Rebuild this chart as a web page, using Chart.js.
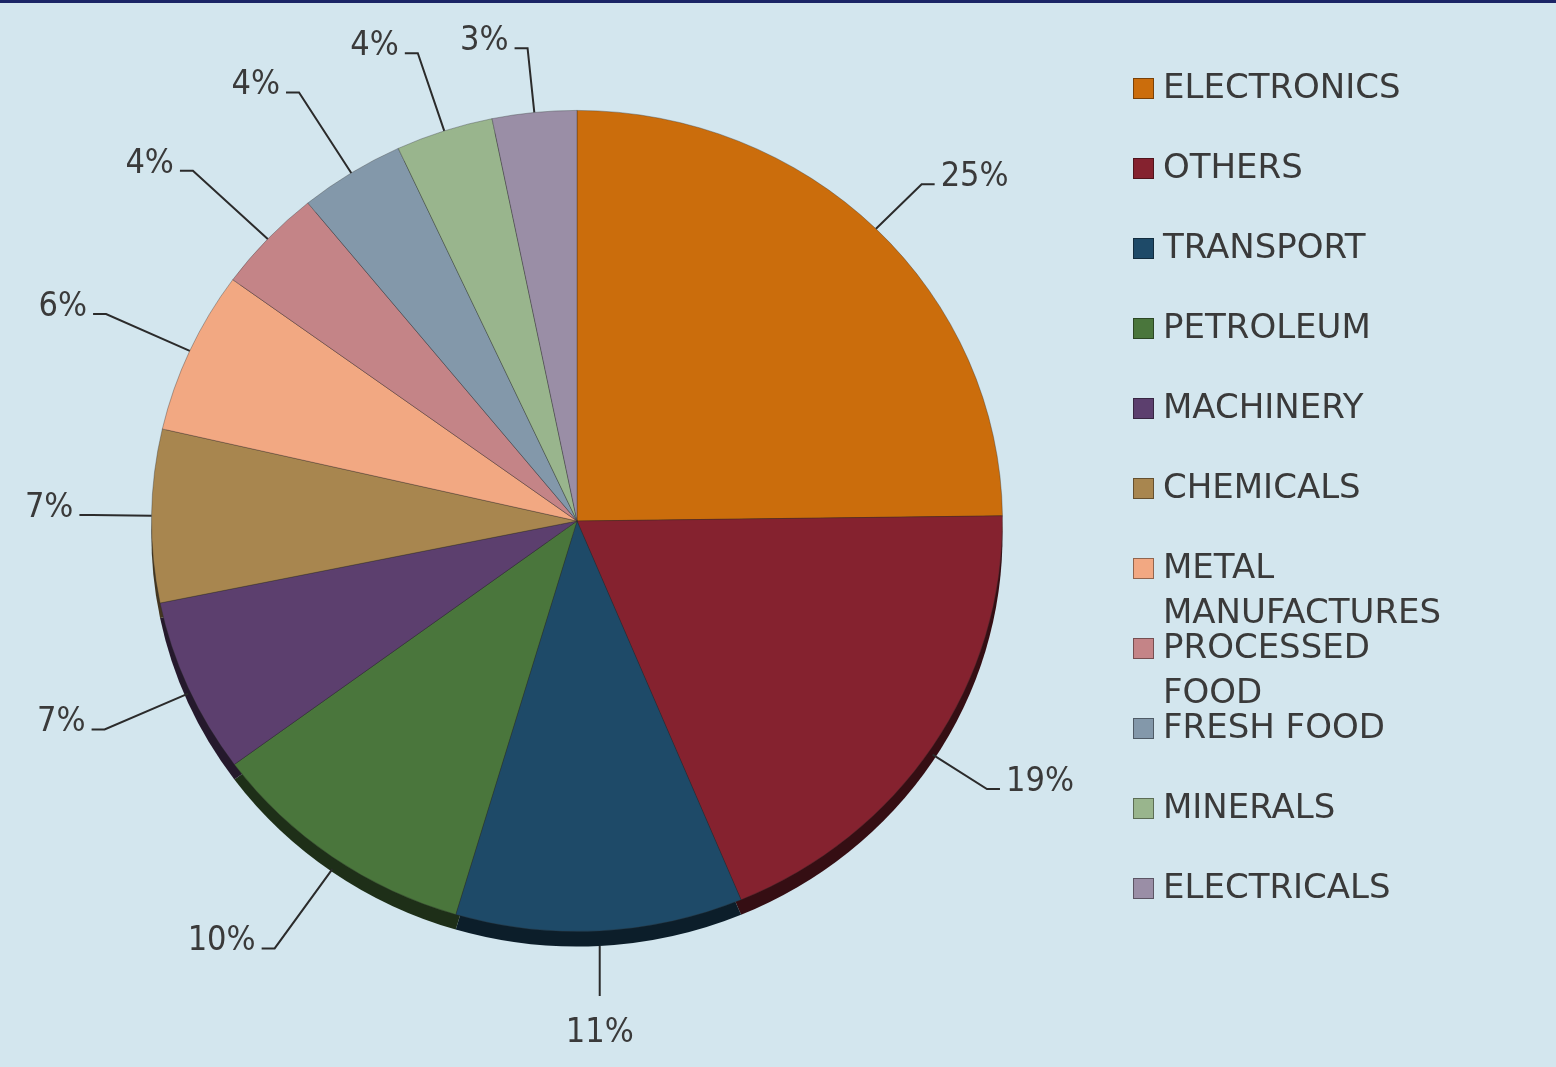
<!DOCTYPE html>
<html>
<head>
<meta charset="utf-8">
<script src="https://cdn.jsdelivr.net/npm/chart.js@4.4.1/dist/chart.umd.min.js"></script>
<style>
html, body { margin: 0; padding: 0; background: #d3e6ee; }
#wrap { position: relative; width: 1556px; height: 1067px; overflow: hidden; background: #d3e6ee; }
#topbar { position: absolute; left: 0; top: 0; width: 1556px; height: 3px; background: #1b2566; }
canvas { position: absolute; left: 0; top: 0; }
</style>
</head>
<body>
<div id="wrap">
  <canvas id="chart-exports" width="1556" height="1067"></canvas>
  <div id="topbar"></div>
</div>
<script>
'use strict';

var categories = [
    'ELECTRONICS',
    'OTHERS',
    'TRANSPORT',
    'PETROLEUM',
    'MACHINERY',
    'CHEMICALS',
    ['METAL', 'MANUFACTURES'],
    ['PROCESSED', 'FOOD'],
    'FRESH FOOD',
    'MINERALS',
    'ELECTRICALS',
]

// share of total, percent
var shares = [24.8, 18.9, 10.9, 10.3, 6.9, 6.8, 6.4, 4.1, 4.0, 3.7, 3.2]

var sliceColors = [
    '#cb6d0c',
    '#85222f',
    '#1e4a68',
    '#4a763c',
    '#5c3f6e',
    '#a8864f',
    '#f2a882',
    '#c48487',
    '#8398aa',
    '#99b58d',
    '#9a8ea6',
]

const textColor = '#3a3a3a'
const labelFont = "34px 'DejaVu Sans Condensed', 'DejaVu Sans', sans-serif"
const legendFont = "34px 'DejaVu Sans', sans-serif"
const tilt = 0.965
const depth = 15

function darken(hex, f) {
    var n = parseInt(hex.slice(1), 16)
    var r = Math.round(((n >> 16) & 255) * f)
    var g = Math.round(((n >> 8) & 255) * f)
    var b = Math.round((n & 255) * f)
    return 'rgb(' + r + ',' + g + ',' + b + ')'
}

// squash the pie into an ellipse and give it a dark rim underneath
var pie3d = {
    id: 'pie3d',
    beforeDatasetsDraw: function(chart) {
        var ctx = chart.ctx
        var arcs = chart.getDatasetMeta(0).data
        var cx = arcs[0].x
        var cy = arcs[0].y
        ctx.save()
        ctx.translate(cx, cy)
        ctx.scale(1, tilt)
        ctx.translate(-cx, -cy)
        for (var k = 0; k < arcs.length; k++) {
            var a = arcs[k]
            ctx.beginPath()
            ctx.moveTo(a.x, a.y + depth / tilt)
            ctx.arc(a.x, a.y + depth / tilt, a.outerRadius, a.startAngle, a.endAngle)
            ctx.closePath()
            ctx.fillStyle = darken(sliceColors[k], 0.4)
            ctx.fill()
        }
    },
    afterDatasetsDraw: function(chart) {
        chart.ctx.restore()
    }
}

var outerLabels = {
    id: 'outerLabels',
    afterDraw: function(chart) {
        var ctx = chart.ctx
        var arcs = chart.getDatasetMeta(0).data
        ctx.save()
        ctx.strokeStyle = '#2b2b2b'
        ctx.lineWidth = 2
        ctx.fillStyle = textColor
        ctx.font = labelFont
        for (var k = 0; k < arcs.length; k++) {
            var a = arcs[k]
            var mid = (a.startAngle + a.endAngle) / 2
            var c = Math.cos(mid)
            var s = Math.sin(mid)
            var r = a.outerRadius
            // labels on the crowded left side sit further out on the diagonals
            var lead = c < 0 ? 58 + 90 * Math.abs(s * c) : 65
            var rim = s > 0 ? depth * s : 0
            var sx = a.x + r * c
            var sy = a.y + r * s * tilt + rim
            var ex = a.x + (r + lead) * c
            var ey = a.y + (r + lead) * s * tilt + rim
            var txt = Math.round(shares[k]) + '%'
            ctx.beginPath()
            if (s > 0 && Math.abs(c) < 0.2) {
                ctx.moveTo(sx, sy)
                ctx.lineTo(sx, sy + 50)
                ctx.stroke()
                ctx.textAlign = 'center'
                ctx.textBaseline = 'top'
                ctx.fillText(txt, sx, sy + 70)
            } else {
                var dir = c > 0 ? 1 : -1
                ctx.moveTo(sx, sy)
                ctx.lineTo(ex, ey)
                ctx.lineTo(ex + dir * 13, ey)
                ctx.stroke()
                ctx.textAlign = dir > 0 ? 'left' : 'right'
                ctx.textBaseline = 'alphabetic'
                ctx.fillText(txt, ex + dir * 19, ey + 2)
            }
        }
        ctx.restore()
    }
}

var sideLegend = {
    id: 'sideLegend',
    afterDraw: function(chart) {
        var ctx = chart.ctx
        var labels = chart.data.labels
        var colors = chart.data.datasets[0].backgroundColor
        var left = chart.chartArea.right + 130
        var top = 88
        ctx.save()
        ctx.font = legendFont
        ctx.textAlign = 'left'
        ctx.textBaseline = 'middle'
        for (var i = 0; i < labels.length; i++) {
            var y = top + i * 80
            ctx.fillStyle = colors[i]
            ctx.fillRect(left, y - 10, 21, 21)
            ctx.strokeStyle = darken(colors[i], 0.6)
            ctx.lineWidth = 1
            ctx.strokeRect(left + 0.5, y - 9.5, 20, 20)
            ctx.fillStyle = textColor
            var lines = Array.isArray(labels[i]) ? labels[i] : [labels[i]]
            for (var j = 0; j < lines.length; j++) {
                ctx.fillText(lines[j], left + 30, y + 1 + j * 45)
            }
        }
        ctx.restore()
    }
}

function initChart() {
    var ctx = document.getElementById('chart-exports').getContext('2d')
    new Chart(ctx, {
        type: 'pie',
        data: {
            labels: categories,
            datasets: [{
                data: shares,
                backgroundColor: sliceColors,
                hoverBackgroundColor: sliceColors,
                borderColor: 'rgba(40,40,40,0.35)',
                borderWidth: 1,
                hoverOffset: 0,
                clip: false
            }]
        },
        options: {
            responsive: false,
            animation: false,
            events: [],
            layout: {
                padding: { left: 151, right: 553, top: 95, bottom: 120 }
            },
            plugins: {
                legend: { display: false },
                tooltip: { enabled: false }
            }
        },
        plugins: [pie3d, outerLabels, sideLegend]
    })
}

initChart()
</script>
</body>
</html>
